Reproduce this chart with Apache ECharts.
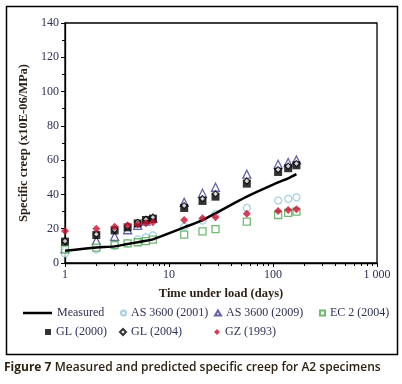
<!DOCTYPE html>
<html>
<head>
<meta charset="utf-8">
<script src="https://cdn.jsdelivr.net/npm/echarts@6/dist/echarts.min.js"></script>
<style>
  html, body { margin: 0; padding: 0; background: #fff; }
  #chart { width: 402px; height: 384px; }
</style>
</head>
<body>
<div id="chart"></div>
<script>
// time under load (days)
const days = [1, 2, 3, 4, 5, 6, 7, 14, 21, 28, 56, 112, 140, 168];

// specific creep (x10E-06/MPa)
const measured  = [7.2, 9.1, 9.7, 11.1, 12.1, 13.0, 13.8, 20.8, 25.0, 29.0, 38.7, 47.0, 49.4, 51.8];
const as2001    = [5.6, 8.0, 10.0, 11.5, 13.8, 15.0, 16.1, 21.2, 24.7, 28.5, 32.1, 36.4, 37.4, 38.3];
const as2009    = [8.4, 13.0, 15.5, 19.4, 22.0, 24.5, 26.0, 35.4, 40.7, 44.2, 51.8, 57.6, 58.6, 60.1];
const ec2004    = [8.0, 9.0, 10.5, 11.5, 12.1, 12.8, 13.6, 16.5, 18.5, 19.8, 24.1, 28.0, 29.2, 30.0];
const gl2000    = [12.5, 16.3, 19.0, 20.8, 23.1, 25.1, 25.9, 32.1, 36.2, 38.7, 46.3, 53.1, 55.3, 57.0];
const gl2004    = [12.8, 16.8, 19.5, 21.5, 23.7, 25.5, 26.7, 33.5, 37.5, 40.3, 47.8, 54.5, 56.5, 58.0];
const gz1993    = [18.7, 20.0, 21.2, 22.0, 22.4, 23.2, 23.7, 25.1, 26.1, 26.7, 28.8, 30.3, 30.9, 31.3];

const xMajor = [1, 10, 100, 1000];
const xMinor = [2, 3, 4, 5, 6, 7, 8, 9, 20, 30, 40, 50, 60, 70, 80, 90, 200, 300, 400, 500, 600, 700, 800, 900];

const serif = 'Liberation Serif';
const txt = '#2f3157';

function pairs(ys) {
  return days.map((d, i) => [d, ys[i]]);
}

function legendAt(item, left, top, w, h) {
  return {
    data: [item], left: left, top: top, itemWidth: w, itemHeight: h, itemGap: 0,
    padding: 0, textStyle: { fontFamily: serif, fontSize: 12, color: txt }
  };
}

let myChart = echarts.init(document.getElementById('chart'));
myChart.setOption({
  animation: false,
  grid: {
    left: 65, right: 25, top: 23, bottom: 121,
    show: true, borderColor: '#000', borderWidth: 1.3, backgroundColor: 'transparent'
  },
  xAxis: [
    {
      type: 'log', logBase: 10, min: 1, max: 1000,
      name: 'Time under load (days)', nameLocation: 'middle', nameGap: 24,
      nameTextStyle: { fontFamily: serif, fontSize: 12.5, fontWeight: 'bold', color: '#2a1f14' },
      axisLine: { lineStyle: { color: '#000', width: 1.3 } },
      axisTick: { show: true, inside: false, length: 4, lineStyle: { color: '#000' }, customValues: xMajor },
      axisLabel: {
        fontFamily: serif, fontSize: 12, color: txt, margin: 6, customValues: xMajor,
        formatter: function (v) { return v === 1000 ? '1 000' : String(v); }
      },
      splitLine: { show: false }
    },
    {
      type: 'log', logBase: 10, min: 1, max: 1000, position: 'bottom', gridIndex: 0,
      axisLine: { show: false },
      axisTick: { show: true, inside: false, length: 3, lineStyle: { color: '#000' }, customValues: xMinor },
      axisLabel: { show: false },
      splitLine: { show: false }
    }
  ],
  yAxis: {
    type: 'value', min: 0, max: 140, interval: 20,
    name: 'Specific creep (x10E-06/MPa)', nameLocation: 'middle', nameGap: 31,
    nameTextStyle: { fontFamily: serif, fontSize: 12.5, fontWeight: 'bold', color: '#2a1f14' },
    axisLine: { show: true, lineStyle: { color: '#000', width: 1.3 } },
    axisTick: { show: true, length: 4, lineStyle: { color: '#000' } },
    minorTick: { show: true, splitNumber: 2, length: 3, lineStyle: { color: '#000' } },
    axisLabel: { fontFamily: serif, fontSize: 12, color: txt, margin: 6 },
    splitLine: { show: false }
  },
  legend: [
    legendAt({ name: 'Measured', icon: 'rect', itemStyle: { color: '#000' } }, 23, 307, 29, 2.5),
    legendAt({ name: 'AS 3600 (2001)', icon: 'circle' }, 120, 307, 5, 5),
    legendAt({ name: 'AS 3600 (2009)', icon: 'triangle' }, 214, 307, 6, 5),
    legendAt({ name: 'EC 2 (2004)', icon: 'rect' }, 319, 307, 5, 5),
    legendAt({ name: 'GL (2000)', icon: 'rect' }, 45, 326, 6, 6),
    legendAt({ name: 'GL (2004)', icon: 'diamond' }, 119, 326, 6, 6),
    legendAt({ name: 'GZ (1993)', icon: 'diamond' }, 214, 326, 6, 6)
  ],
  series: [
    {
      name: 'AS 3600 (2001)', type: 'scatter', symbol: 'circle', symbolSize: 7, z: 2,
      itemStyle: { color: '#fff', borderColor: '#8ec6da', borderWidth: 1.3 },
      data: pairs(as2001)
    },
    {
      name: 'AS 3600 (2009)', type: 'scatter', symbol: 'triangle', symbolSize: [8, 8], z: 2,
      itemStyle: { color: '#fff', borderColor: '#3f3c8f', borderWidth: 1.3 },
      data: pairs(as2009)
    },
    {
      name: 'EC 2 (2004)', type: 'scatter', symbol: 'rect', symbolSize: 7, z: 2,
      itemStyle: { color: '#fff', borderColor: '#4ea84e', borderWidth: 1.3 },
      data: pairs(ec2004)
    },
    {
      name: 'Measured', type: 'line', symbol: 'none', smooth: 0.3, z: 3,
      lineStyle: { color: '#000', width: 2.5 },
      itemStyle: { color: '#000' },
      data: pairs(measured)
    },
    {
      name: 'GL (2000)', type: 'scatter', symbol: 'rect', symbolSize: 8, z: 4,
      itemStyle: { color: '#000' },
      data: pairs(gl2000)
    },
    {
      name: 'GL (2004)', type: 'scatter', symbol: 'diamond', symbolSize: 6, z: 5,
      itemStyle: { color: '#fff', borderColor: '#000', borderWidth: 1.2 },
      data: pairs(gl2004)
    },
    {
      name: 'GZ (1993)', type: 'scatter', symbol: 'diamond', symbolSize: 8, z: 6,
      itemStyle: { color: '#c8102e' },
      data: pairs(gz1993)
    }
  ],
  graphic: [
    {
      type: 'rect', left: 4, top: 4, z: -1,
      shape: { width: 391, height: 348 },
      style: { fill: 'none', stroke: '#000', lineWidth: 1.5 }
    },
    {
      type: 'text', left: 4, top: 362,
      style: {
        text: '{b|Figure 7} {n|Measured and predicted specific creep for A2 specimens}',
        rich: {
          b: { fontFamily: 'Open Sans', fontSize: 12, fontWeight: 'bold', fill: '#2e2213' },
          n: { fontFamily: 'Open Sans', fontSize: 12, fontWeight: 600, fill: '#2e2213' }
        }
      }
    }
  ]
});
</script>
</body>
</html>
